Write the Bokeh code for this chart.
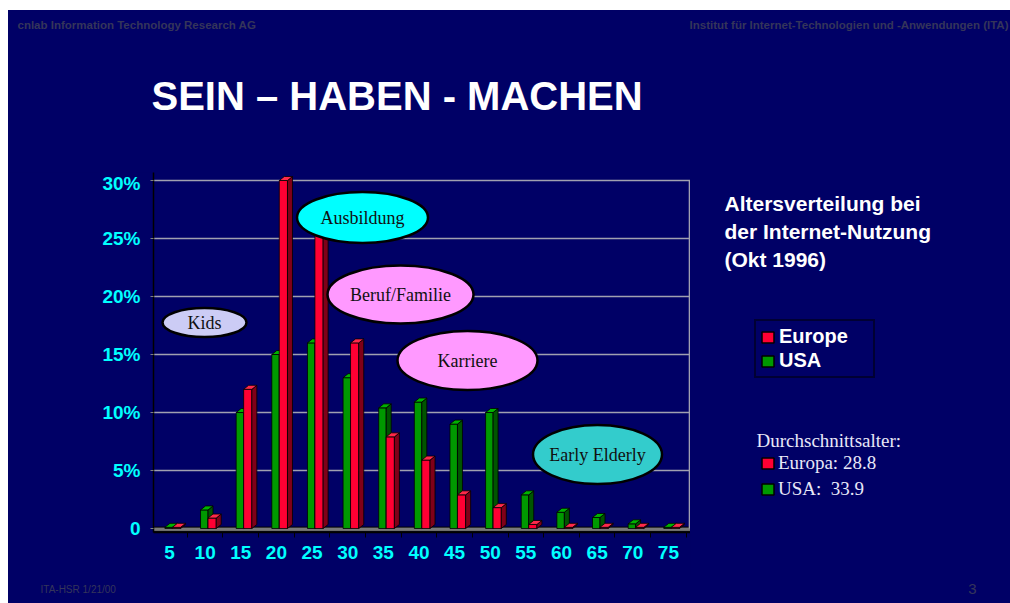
from bokeh.plotting import figure
from bokeh.layouts import column, row
from bokeh.models import (Label, FixedTicker, Legend, LegendItem, ColumnDataSource, Range1d)
from bokeh.embed import file_html
from bokeh.resources import INLINE

# ---------------- data ----------------
ages = [5, 10, 15, 20, 25, 30, 35, 40, 45, 50, 55, 60, 65, 70, 75]
europe = [0.1, 0.9, 12.0, 30.0, 26.0, 16.0, 7.9, 5.9, 2.9, 1.8, 0.35, 0.1, 0.1, 0.1, 0.1]
usa = [0.1, 1.6, 10.0, 15.0, 16.0, 13.0, 10.4, 10.9, 9.0, 10.0, 2.9, 1.4, 0.95, 0.4, 0.1]
y_ticks = [0, 5, 10, 15, 20, 25, 30]
y_tick_labels = ["0", "5%", "10%", "15%", "20%", "25%", "30%"]
x_tick_labels = [str(a) for a in ages]
series_names = ["Europe", "USA"]
avg_labels = ["Europa: 28.8", "USA:  33.9"]

NAVY = "#000066"
CYAN = "#00ffff"
HEAD = "#35355a"
RED = ["#ff0033", "#800018", "#ff2a4a"]
GREEN = ["#009900", "#005500", "#00b300"]

# ---------------- page layout (page pixel positions) ----------------
PX0, PY0, PX1, PY1 = 8, 10, 1010, 603
MID_Y0, MID_Y1 = 172, 575
SPLIT_X = 690

# chart frame in page pixels
F_L, F_R, F_T, F_B = 153, 690, 172, 532
X_START, X_END = 2.75, 78.1
Y_START, Y_END = -0.345, 30.69
SX = (F_R - F_L) / (X_END - X_START)
SY = (F_B - F_T) / (Y_END - Y_START)


def dx(page_x):
    return X_START + (page_x - F_L) / SX


def dy(page_y):
    return Y_START + (F_B - page_y) / SY


def text_fig(x0, x1, y0, y1, fy0=None, fy1=None):
    """A text-only figure whose data coordinates are page pixels."""
    fy0 = y0 if fy0 is None else fy0
    fy1 = y1 if fy1 is None else fy1
    f = figure(width=x1 - x0, height=y1 - y0, x_range=Range1d(x0, x1),
               y_range=Range1d(fy1, fy0), output_backend="svg", toolbar_location=None,
               x_axis_location=None, y_axis_location=None,
               min_border_left=0, min_border_right=0,
               min_border_top=fy0 - y0, min_border_bottom=y1 - fy1)
    f.grid.visible = False
    f.outline_line_color = None
    f.background_fill_color = NAVY
    f.border_fill_color = NAVY
    return f


def lab(f, x, y, text, size, color="white", font="Liberation Sans", style="normal",
        align="left"):
    f.add_layout(Label(x=x, y=y, text=text, text_align=align, text_baseline="middle",
                       text_font=font, text_font_style=style, text_font_size=size,
                       text_color=color))


# ---------------- top figure: header + title ----------------
top = text_fig(PX0, PX1, PY0, MID_Y0)
lab(top, 17, 24, "cnlab Information Technology Research AG", "11.5px", HEAD, style="bold")
lab(top, 1008, 24, "Institut f\u00fcr Internet-Technologien und -Anwendungen (ITA)",
    "11.5px", HEAD, style="bold", align="right")
lab(top, 151, 95, "SEIN \u2013 HABEN - MACHEN", "40px", "white", style="bold")

# ---------------- chart figure ----------------
p = figure(width=SPLIT_X - PX0, height=MID_Y1 - MID_Y0, output_backend="svg",
           toolbar_location=None, x_range=(X_START, X_END), y_range=(Y_START, Y_END),
           min_border_left=F_L - PX0, min_border_right=SPLIT_X - F_R,
           min_border_top=F_T - MID_Y0, min_border_bottom=MID_Y1 - F_B)
p.background_fill_color = NAVY
p.border_fill_color = NAVY
p.outline_line_color = None
p.xgrid.grid_line_color = None
p.ygrid.grid_line_color = "#a0a0b0"
p.ygrid.grid_line_width = 1.6
p.ygrid.ticker = FixedTicker(ticks=y_ticks)

p.yaxis.ticker = FixedTicker(ticks=y_ticks)
p.yaxis.major_label_overrides = {t: l for t, l in zip(y_ticks, y_tick_labels)}
p.yaxis.axis_line_color = "black"
p.yaxis.axis_line_width = 1.5
p.yaxis.major_tick_line_color = "#808080"
p.yaxis.major_tick_out = 3
p.yaxis.major_tick_in = 0
p.yaxis.minor_tick_line_color = None
p.yaxis.major_label_standoff = 10
p.yaxis.major_label_text_color = CYAN
p.yaxis.major_label_text_font = "Liberation Sans"
p.yaxis.major_label_text_font_style = "bold"
p.yaxis.major_label_text_font_size = "19px"

minor = [ages[0] - 2.5] + [a + 2.5 for a in ages]
p.xaxis.ticker = FixedTicker(ticks=ages, minor_ticks=minor)
p.xaxis.major_label_overrides = {a: l for a, l in zip(ages, x_tick_labels)}
p.xaxis.axis_line_color = "black"
p.xaxis.axis_line_width = 1.5
p.xaxis.major_tick_line_color = None
p.xaxis.minor_tick_line_color = "black"
p.xaxis.minor_tick_out = 5
p.xaxis.minor_tick_in = 0
p.xaxis.major_label_standoff = 7
p.xaxis.major_label_text_color = CYAN
p.xaxis.major_label_text_font = "Liberation Sans"
p.xaxis.major_label_text_font_style = "bold"
p.xaxis.major_label_text_font_size = "19px"

# floor and right wall
p.quad(left=[X_START], right=[X_END], bottom=[-0.25], top=[0.12],
       fill_color="#7a7a7a", line_color="black", line_width=1)
p.segment(x0=[dx(689)], y0=[0], x1=[dx(689)], y1=[y_ticks[-1]],
          line_color="#a0a0b0", line_width=1.6)

DX = 5 / SX
DY = 4 / SY


def bar_source(vals, off_l, off_r):
    return ColumnDataSource(dict(left=[a + off_l for a in ages],
                                 right=[a + off_r for a in ages],
                                 top=vals, bottom=[0] * len(vals)))


def bars(vals, off_l, off_r, cols):
    front, side, topc = cols
    src = bar_source(vals, off_l, off_r)
    lefts, rights = src.data["left"], src.data["right"]
    r = p.quad(left="left", right="right", bottom="bottom", top="top", source=src,
               fill_color=front, line_color="black", line_width=0.8)
    side_xs = [[rr, rr + DX, rr + DX, rr] for rr in rights]
    side_ys = [[0, DY, v + DY, v] for v in vals]
    p.patches(side_xs, side_ys, fill_color=side, line_color="black", line_width=0.8)
    top_xs = [[ll, ll + DX, rr + DX, rr] for ll, rr in zip(lefts, rights)]
    top_ys = [[v, v + DY, v + DY, v] for v in vals]
    p.patches(top_xs, top_ys, fill_color=topc, line_color="black", line_width=0.8)
    return r


US_OFF = (-0.65, 0.4)
EU_OFF = (0.4, 1.55)
bars(usa, *US_OFF, GREEN)
bars(europe, *EU_OFF, RED)

ell_text = ["Kids", "Ausbildung", "Beruf/Familie", "Karriere", "Early Elderly"]
ell_px = [204, 362, 400, 467, 597]
ell_py = [322, 217, 294, 360, 454]
ell_w = [84, 131, 146, 140, 129]
ell_h = [29, 51, 58, 59, 59]
ell_fill = ["#ccccf5", "#00ffff", "#ff99ff", "#ff99ff", "#33cccc"]
p.ellipse(x=[dx(v) for v in ell_px], y=[dy(v) for v in ell_py],
          width=ell_w, height=ell_h, width_units="screen", height_units="screen",
          fill_color=ell_fill, line_color="black", line_width=2.5)
for t, ex, ey in zip(ell_text, ell_px, ell_py):
    p.add_layout(Label(x=dx(ex), y=dy(ey), text=t, text_align="center",
                       text_baseline="middle", text_font="Liberation Serif",
                       text_font_size="18px", text_color="#111111"))

# ---------------- right figure: caption + legends ----------------
rf = text_fig(SPLIT_X, PX1, MID_Y0, MID_Y1, F_T, F_B)
for i, line in enumerate(["Altersverteilung bei", "der Internet-Nutzung", "(Okt 1996)"]):
    lab(rf, 724, 203 + 28 * i, line, "21px", "white", style="bold")
lab(rf, 756, 440, "Durchschnittsalter:", "19px", "#e8e8f8", font="Liberation Serif")

# legend swatches: hidden copies of the bar renderers (they only carry the styles)
sw_eu = rf.quad(left="left", right="right", bottom="bottom", top="top",
                source=bar_source(europe, *EU_OFF), fill_color=RED[0],
                line_color="black", line_width=1.5, visible=False)
sw_us = rf.quad(left="left", right="right", bottom="bottom", top="top",
                source=bar_source(usa, *US_OFF), fill_color=GREEN[0],
                line_color="black", line_width=1.5, visible=False)

leg1 = Legend(items=[LegendItem(label=series_names[0], renderers=[sw_eu]),
                     LegendItem(label=series_names[1], renderers=[sw_us])],
              location=(754 - SPLIT_X, F_B - 378),
              background_fill_color=NAVY, background_fill_alpha=1,
              border_line_color="black", border_line_width=2,
              label_text_color="white", label_text_font="Liberation Sans",
              label_text_font_style="bold", label_text_font_size="20px",
              glyph_width=15, glyph_height=14, label_standoff=4, label_width=90,
              label_height=20, spacing=1, padding=4, margin=0)
rf.add_layout(leg1, "center")

leg2 = Legend(items=[LegendItem(label=avg_labels[0], renderers=[sw_eu]),
                     LegendItem(label=avg_labels[1], renderers=[sw_us])],
              location=(760 - SPLIT_X, F_B - 500),
              background_fill_alpha=0, border_line_color=None,
              label_text_color="#e8e8f8", label_text_font="Liberation Serif",
              label_text_font_size="19px",
              glyph_width=15, glyph_height=14, label_standoff=3,
              label_height=20, spacing=4, padding=0, margin=0)
rf.add_layout(leg2, "center")

# ---------------- bottom figure: footer ----------------
bot = text_fig(PX0, PX1, MID_Y1, PY1)
lab(bot, 40, 589, "ITA-HSR  1/21/00", "10px", HEAD)
lab(bot, 976, 588, "3", "15px", HEAD, align="right")

layout = column(top, row(p, rf, styles={"background-color": NAVY}), bot,
                styles={"background-color": NAVY})
layout.margin = (PY0, 0, 0, PX0)

open("out.html", "w").write(file_html(layout, INLINE))
